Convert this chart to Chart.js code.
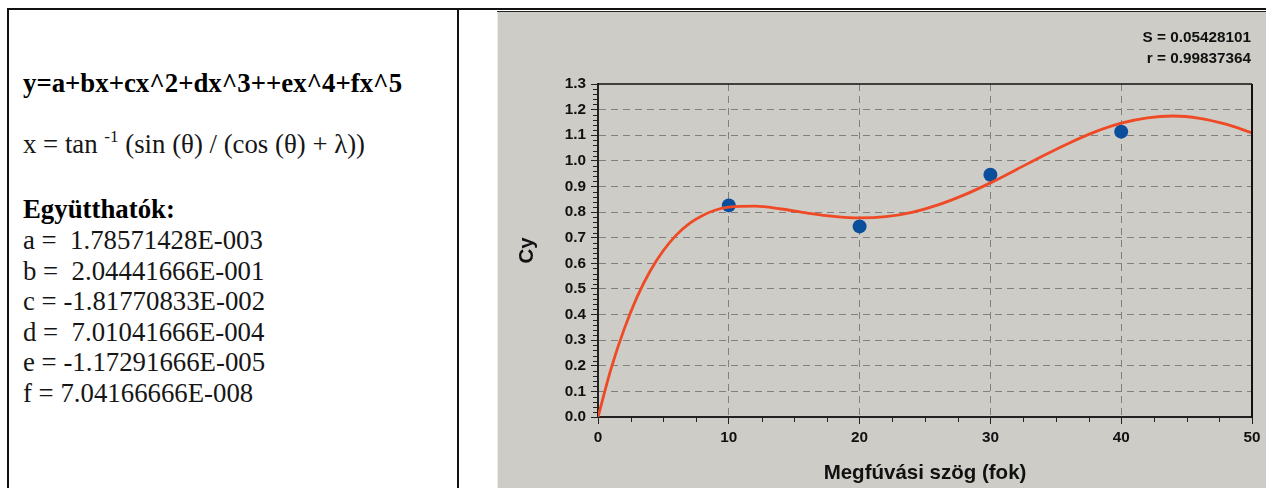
<!DOCTYPE html>
<html><head><meta charset="utf-8">
<script src="https://cdn.jsdelivr.net/npm/chart.js@4.4.0/dist/chart.umd.min.js"></script>
<style>
html,body{margin:0;padding:0;background:#fff;width:1266px;height:488px;overflow:hidden;position:relative}
.ln{position:absolute;background:#111}
#txt{position:absolute;left:23px;top:68px;font-family:"Liberation Serif","Times New Roman",serif;font-size:26.8px;line-height:30.6px;color:#161616;white-space:pre}
.b{font-weight:bold;color:#000}
.sup{font-size:17px;position:relative;top:-11px}
#panel{position:absolute;left:498px;top:12px;width:768px;height:476px;background:#cdccc7}
canvas{display:block}
</style></head><body>
<div class="ln" style="left:7px;top:8px;width:1259px;height:2px"></div>
<div class="ln" style="left:7px;top:8px;width:2px;height:480px"></div>
<div class="ln" style="left:457px;top:8px;width:2px;height:480px"></div>
<div class="ln" style="left:497px;top:11px;width:769px;height:1px;background:#222"></div>
<div style="position:absolute;left:497px;top:12px;width:1px;height:476px;background:#ececec"></div>
<div id="txt"><span class="b">y=a+bx+cx^2+dx^3++ex^4+fx^5</span>

x = tan <span class="sup">-1</span> (sin (θ) / (cos (θ) + λ))

<span class="b">Együtthatók:</span>
a =  1.78571428E-003
b =  2.04441666E-001
c = -1.81770833E-002
d =  7.01041666E-004
e = -1.17291666E-005
f = 7.04166666E-008</div>
<div id="panel"><canvas id="c" width="768" height="476"></canvas></div>
<script>
// fitted curve
const curveX = [0,1,2,3,4,5,6,7,8,9,10,12,14,16,18,20,22,24,26,28,30,32,34,36,38,40,42,44,46,48,50];
const curveY = [0.000,0.189,0.343,0.470,0.571,0.650,0.711,0.756,0.787,0.808,0.819,0.823,0.812,0.796,0.783,0.777,0.782,0.799,0.828,0.867,0.914,0.966,1.019,1.069,1.113,1.147,1.168,1.175,1.166,1.143,1.109];
// measured points
const pointX = [10,20,30,40];
const pointY = [0.826,0.744,0.946,1.114];
// ticks
const xTicks = [0,10,20,30,40,50];
const xTickLabels = ['0','10','20','30','40','50'];
const yTicks = [0,0.1,0.2,0.3,0.4,0.5,0.6,0.7,0.8,0.9,1.0,1.1,1.2,1.3];
const yTickLabels = ['0.0','0.1','0.2','0.3','0.4','0.5','0.6','0.7','0.8','0.9','1.0','1.1','1.2','1.3'];
const statLabels = ['S = 0.05428101','r = 0.99837364'];
const xTitle = 'Megfúvási szög (fok)';
const yTitle = 'Cy';
const xMinorStep = 2.5, yMinorStep = 0.02;

const FONT = '"Liberation Sans", Arial, sans-serif';
const gridColor = (ctx) => (ctx.index === 0 || ctx.index === ctx.chart.scales[ctx.scale.id].ticks.length - 1) ? 'rgba(0,0,0,0)' : '#808080';

const framePlugin = {
  id: 'frame',
  afterDraw(chart) {
    const {ctx, chartArea: a, scales: {x, y}} = chart;
    ctx.save();
    ctx.strokeStyle = '#222';
    ctx.lineWidth = 1;
    ctx.beginPath();
    for (let v = 0; v <= 50 + 1e-9; v += xMinorStep) {
      if (Math.abs(v / 10 - Math.round(v / 10)) < 1e-6) continue;
      const px = Math.round(x.getPixelForValue(v)) + 0.5;
      ctx.moveTo(px, a.bottom); ctx.lineTo(px, a.bottom + 5);
    }
    for (let i = 0; i <= 65; i++) {
      if (i % 5 === 0) continue;
      const py = Math.round(y.getPixelForValue(i * yMinorStep)) + 0.5;
      ctx.moveTo(a.left - 5, py); ctx.lineTo(a.left, py);
    }
    ctx.stroke();
    ctx.strokeStyle = '#111';
    ctx.lineWidth = 1.3;
    ctx.beginPath();
    ctx.moveTo(a.left, a.top); ctx.lineTo(a.right, a.top);
    ctx.stroke();
    ctx.lineWidth = 2;
    ctx.beginPath();
    ctx.moveTo(a.right, a.top); ctx.lineTo(a.right, a.bottom + 1);
    ctx.stroke();
    ctx.fillStyle = '#111';
    ctx.font = 'bold 15.3px ' + FONT;
    ctx.textAlign = 'right';
    ctx.textBaseline = 'middle';
    ctx.fillText(statLabels[0], 753, 26);
    ctx.fillText(statLabels[1], 753, 47);
    ctx.restore();
  }
};

new Chart(document.getElementById('c'), {
  type: 'scatter',
  data: {
    datasets: [
      {
        label: 'fit',
        data: curveX.map((v, i) => ({x: v, y: curveY[i]})),
        showLine: true,
        borderColor: '#ef4a25',
        borderWidth: 2.8,
        pointRadius: 0,
        cubicInterpolationMode: 'monotone',
        order: 0
      },
      {
        label: 'data',
        data: pointX.map((v, i) => ({x: v, y: pointY[i]})),
        showLine: false,
        pointRadius: 7,
        pointBackgroundColor: '#0b4f9c',
        pointBorderWidth: 0,
        order: 1
      }
    ]
  },
  options: {
    responsive: false,
    devicePixelRatio: 1,
    animation: false,
    layout: {padding: {top: 72, right: 14, left: 0, bottom: 0}},
    plugins: {legend: {display: false}, tooltip: {enabled: false}},
    scales: {
      x: {
        type: 'linear', min: 0, max: 50,
        afterBuildTicks: s => { s.ticks = xTicks.map(v => ({value: v})); },
        afterFit: s => { s.height = 71; },
        ticks: {autoSkip: false, maxRotation: 0, padding: 5, color: '#111',
          font: {family: FONT, weight: 'bold', size: 15.3},
          callback: (v, i) => xTickLabels[i]},
        grid: {color: gridColor, lineWidth: 1, drawTicks: true, tickLength: 7, tickColor: '#222', tickWidth: 1},
        border: {display: true, color: '#222', width: 2, dash: [7, 5]},
        title: {display: true, text: xTitle, color: '#111',
          font: {family: FONT, weight: 'bold', size: 20.5}, padding: {top: 0, bottom: 2}}
      },
      y: {
        type: 'linear', min: 0, max: 1.3,
        afterBuildTicks: s => { s.ticks = yTicks.map(v => ({value: v})); },
        afterFit: s => { s.width = 100; },
        ticks: {autoSkip: false, padding: 5, color: '#111',
          font: {family: FONT, weight: 'bold', size: 15.3},
          callback: (v, i) => yTickLabels[i]},
        grid: {color: gridColor, lineWidth: 1, drawTicks: true, tickLength: 7, tickColor: '#222', tickWidth: 1},
        border: {display: true, color: '#222', width: 2, dash: [7, 5]},
        title: {display: true, text: yTitle, color: '#111',
          font: {family: FONT, weight: 'bold', size: 20.5}, padding: {top: 17, bottom: 0}}
      }
    }
  },
  plugins: [framePlugin]
});
</script>
</body></html>
